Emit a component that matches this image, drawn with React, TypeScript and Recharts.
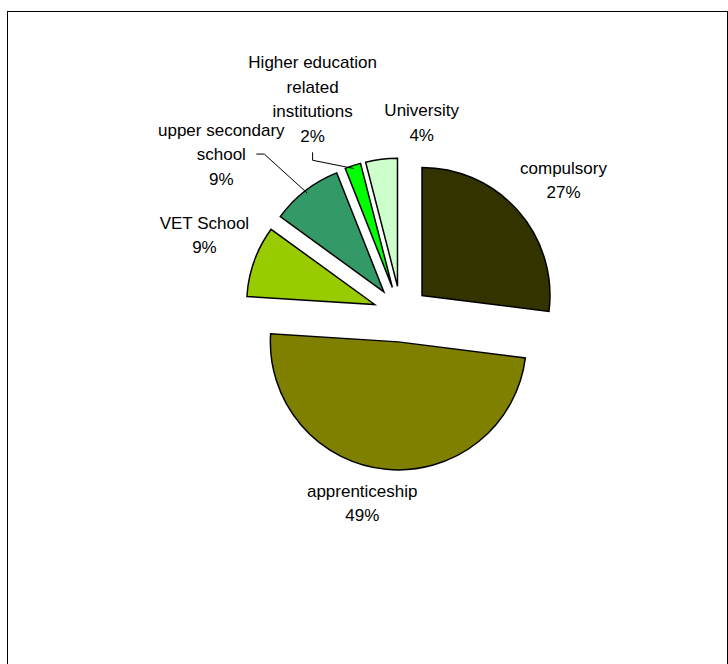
import { PieChart, Pie, Cell, Sector } from "recharts";

const CATEGORIES = [
  "compulsory",
  "apprenticeship",
  "VET School",
  "upper secondary school",
  "Higher education related institutions",
  "University",
];
const SHARES = [27, 49, 9, 9, 2, 4];
const COLORS = ["#333300", "#808000", "#99CC00", "#339966", "#00FF00", "#CCFFCC"];

const data = CATEGORIES.map((name, i) => ({ name, value: SHARES[i] }));

const RADIAN = Math.PI / 180;
const EXPLODE = 28;
const LABEL_DIST = 210;
const LINE_H = 24.5;
const FONT = 17;

// excel "best fit" label placement, nudged from the radial position
const LABEL_NUDGE: [number, number][] = [
  [5, 5],
  [-19, -20],
  [1, -8],
  [-51, 6],
  [-23.5, -15],
  [47, 17],
];
// leader lines: [start, elbow] offsets from the label centre
const LEADERS: Record<number, [number, number][]> = {
  3: [
    [35, 0],
    [43, 0],
  ],
  4: [
    [0, 53],
    [0, 61],
  ],
};

function wrap(text: string, max = 16) {
  const words = text.split(" ");
  const lines: string[] = [];
  let cur = "";
  for (const w of words) {
    if (cur && (cur + " " + w).length > max) {
      lines.push(cur);
      cur = w;
    } else {
      cur = cur ? cur + " " + w : w;
    }
  }
  if (cur) lines.push(cur);
  return lines;
}

const ExplodedSector = (props: any) => {
  const { cx, cy, midAngle } = props;
  return (
    <Sector
      {...props}
      cx={cx + EXPLODE * Math.cos(-midAngle * RADIAN)}
      cy={cy + EXPLODE * Math.sin(-midAngle * RADIAN)}
    />
  );
};

const renderLabel = (props: any) => {
  const { cx, cy, midAngle, outerRadius, percent, index, name } = props;
  const cos = Math.cos(-midAngle * RADIAN);
  const sin = Math.sin(-midAngle * RADIAN);
  const [nx, ny] = LABEL_NUDGE[index];
  const lx = cx + LABEL_DIST * cos + nx;
  const ly = cy + LABEL_DIST * sin + ny;
  const lines = [...wrap(name), `${Math.round(percent * 100)}%`];
  const top = ly - ((lines.length - 1) * LINE_H) / 2;
  const leader = LEADERS[index];
  let points = "";
  if (leader) {
    const ex = cx + (outerRadius + EXPLODE - 3) * cos;
    const ey = cy + (outerRadius + EXPLODE - 3) * sin;
    points = [
      `${lx + leader[0][0]},${ly + leader[0][1]}`,
      `${lx + leader[1][0]},${ly + leader[1][1]}`,
      `${ex},${ey}`,
    ].join(" ");
  }
  return (
    <g key={`label-${index}`}>
      {leader && <polyline points={points} fill="none" stroke="#000" strokeWidth={1} />}
      <text
        x={lx}
        textAnchor="middle"
        fontSize={FONT}
        fontFamily="'Liberation Sans', Arial, sans-serif"
        fill="#000"
      >
        {lines.map((l, i) => (
          <tspan key={i} x={lx} y={top + i * LINE_H + FONT * 0.35}>
            {l}
          </tspan>
        ))}
      </text>
    </g>
  );
};

export default function App() {
  return (
    <>
      <style>{`body{margin:0;overflow:hidden;}`}</style>
      <div
        style={{
          position: "absolute",
          left: 7,
          top: 11,
          width: 719,
          height: 670,
          border: "1px solid #000",
          background: "#fff",
        }}
      >
        <PieChart width={719} height={670} margin={{ top: 0, right: 0, bottom: 0, left: 0 }}>
          <Pie
            data={data}
            dataKey="value"
            nameKey="name"
            cx={393}
            cy={302}
            outerRadius={128}
            startAngle={90}
            endAngle={-270}
            stroke="#000"
            strokeWidth={1.5}
            shape={ExplodedSector}
            label={renderLabel}
            labelLine={false}
            isAnimationActive={false}
          >
            {data.map((_d, i) => (
              <Cell key={i} fill={COLORS[i]} />
            ))}
          </Pie>
        </PieChart>
      </div>
    </>
  );
}
